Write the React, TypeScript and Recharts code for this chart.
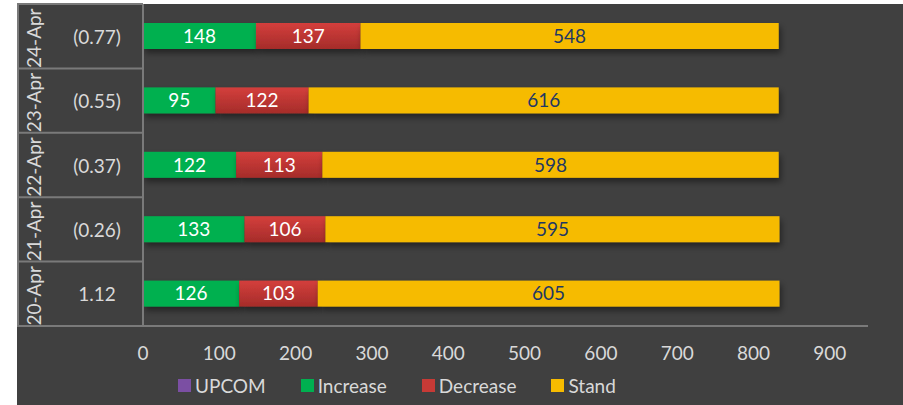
import { BarChart, Bar, XAxis, YAxis, Legend, LabelList } from "recharts";

const dates = ["24-Apr", "23-Apr", "22-Apr", "21-Apr", "20-Apr"];
const upcomChange = ["(0.77)", "(0.55)", "(0.37)", "(0.26)", "1.12"];
const increase = [148, 95, 122, 133, 126];
const decrease = [137, 122, 113, 106, 103];
const stand = [548, 616, 598, 595, 605];
const xTicks = [0, 100, 200, 300, 400, 500, 600, 700, 800, 900];
const legendOrder = ["upcom", "increase", "decrease", "stand"];

const seriesColors: Record<string, string> = {
  upcom: "#7b4fa3",
  increase: "#00b050",
  decrease: "#c73a36",
  stand: "#f6bb00",
};

const W = 903;
const H = 405;
const M = { top: 4, right: 35, left: 17, bottom: 0 };
const X_AXIS_H = 40;
const LEGEND_H = 39;
const ROW_H = (H - M.top - M.bottom - X_AXIS_H - LEGEND_H) / dates.length;
const FONT = "Lato, 'Open Sans', sans-serif";
const FS = 19;
const TEXT = "#d9d9d9";
const GRID = "#7a7a7a";

const data = dates.map((d, i) => ({
  date: d,
  change: upcomChange[i],
  increase: increase[i],
  decrease: decrease[i],
  stand: stand[i],
}));

function TableTick(props: any) {
  const { y, index } = props;
  const row = data[index];
  const top = y - ROW_H / 2;
  const bottom = y + ROW_H / 2;
  return (
    <g>
      {index === 0 && <line x1={M.left} x2={143} y1={top} y2={top} stroke={GRID} strokeWidth={2} />}
      <line x1={M.left} x2={143} y1={bottom} y2={bottom} stroke={GRID} strokeWidth={2} />
      <line x1={M.left + 1} x2={M.left + 1} y1={top} y2={bottom} stroke={GRID} strokeWidth={2} />
      <text
        x={0}
        y={0}
        transform={`translate(${M.left + 16}, ${y + 2}) rotate(-90)`}
        textAnchor="middle"
        dominantBaseline="central"
        fill={TEXT}
        fontSize={FS}
        fontFamily={FONT}
      >
        {row.date}
      </text>
      <text
        x={97}
        y={y}
        textAnchor="middle"
        dominantBaseline="central"
        fill={TEXT}
        fontSize={FS}
        fontFamily={FONT}
      >
        {row.change}
      </text>
    </g>
  );
}

function ShadowBar(props: any) {
  const { x, y, width, height, fill } = props;
  if (!width || width <= 0) return null;
  return <rect x={x} y={y} width={width} height={height} fill={fill} filter="url(#barShadow)" />;
}

function LegendContent(props: any) {
  const items = [...(props.payload || [])].sort(
    (a: any, b: any) => legendOrder.indexOf(a.dataKey) - legendOrder.indexOf(b.dataKey)
  );
  return (
    <div
      style={{
        display: "flex",
        alignItems: "center",
        height: LEGEND_H,
        paddingLeft: 178,
        fontFamily: FONT,
        fontSize: FS,
        color: TEXT,
        boxSizing: "border-box",
      }}
    >
      {items.map((it: any) => (
        <div key={it.dataKey} style={{ display: "flex", alignItems: "center", marginRight: 35 }}>
          <span
            style={{
              display: "inline-block",
              width: 13,
              height: 13,
              background: seriesColors[it.dataKey],
              marginRight: 4,
            }}
          />
          <span>{it.value}</span>
        </div>
      ))}
    </div>
  );
}

export default function App() {
  return (
    <div style={{ position: "absolute", left: 0, top: 0, width: W, height: H, background: "#ffffff" }}>
      <div
        style={{
          position: "absolute",
          left: M.left,
          top: M.top,
          width: W - M.left,
          height: H - M.top,
          background: "#404040",
        }}
      />
      <div style={{ position: "absolute", left: 0, top: 0 }}>
        <BarChart
          width={W}
          height={H}
          data={data}
          layout="vertical"
          margin={M}
          barSize={26}
          style={{ fontFamily: FONT }}
        >
          <defs>
            <linearGradient id="redGrad" x1="0" y1="0" x2="0" y2="1">
              <stop offset="0%" stopColor="#d43f3c" />
              <stop offset="100%" stopColor="#a52c2a" />
            </linearGradient>
            <filter id="barShadow" x="-5%" y="-30%" width="110%" height="180%">
              <feDropShadow dx="2" dy="4" stdDeviation="3" floodColor="#000000" floodOpacity="0.45" />
            </filter>
          </defs>
          <XAxis
            type="number"
            domain={[0, 950]}
            ticks={xTicks}
            height={X_AXIS_H}
            axisLine={{ stroke: GRID, strokeWidth: 2 }}
            tickLine={false}
            tickMargin={15}
            tick={{ fill: TEXT, fontSize: FS, fontFamily: FONT }}
            allowDataOverflow
          />
          <YAxis
            type="category"
            dataKey="date"
            width={143 - M.left}
            axisLine={{ stroke: GRID, strokeWidth: 2 }}
            tickLine={false}
            tick={<TableTick />}
            interval={0}
          />
          <Legend height={LEGEND_H} content={<LegendContent />} wrapperStyle={{ left: 0, width: W }} />
          <Bar dataKey="upcom" name="UPCOM" stackId="a" fill={seriesColors.upcom} isAnimationActive={false} />
          <Bar
            dataKey="increase"
            name="Increase"
            stackId="a"
            fill={seriesColors.increase}
            shape={<ShadowBar />}
            isAnimationActive={false}
          >
            <LabelList dataKey="increase" position="center" fill="#ffffff" fontSize={FS} fontFamily={FONT} />
          </Bar>
          <Bar
            dataKey="decrease"
            name="Decrease"
            stackId="a"
            fill="url(#redGrad)"
            shape={<ShadowBar />}
            isAnimationActive={false}
          >
            <LabelList dataKey="decrease" position="center" fill="#ffffff" fontSize={FS} fontFamily={FONT} />
          </Bar>
          <Bar
            dataKey="stand"
            name="Stand"
            stackId="a"
            fill={seriesColors.stand}
            shape={<ShadowBar />}
            isAnimationActive={false}
          >
            <LabelList dataKey="stand" position="center" fill="#1f3864" fontSize={FS} fontFamily={FONT} />
          </Bar>
        </BarChart>
      </div>
    </div>
  );
}
